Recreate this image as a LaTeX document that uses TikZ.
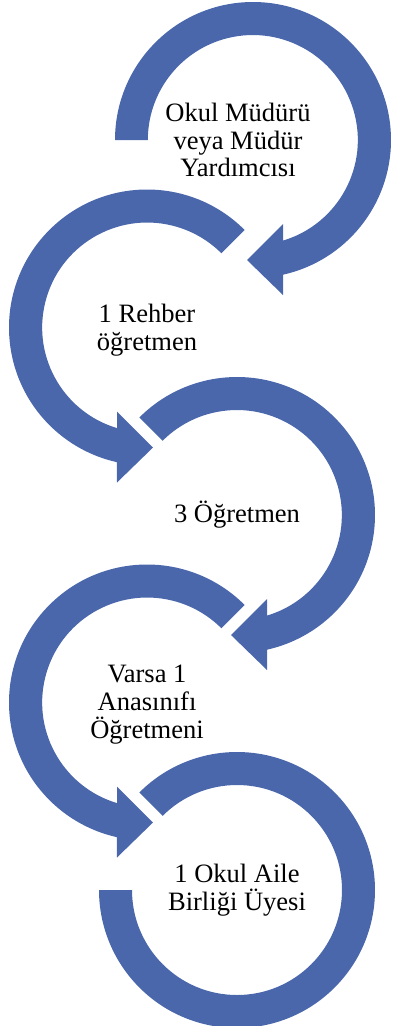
\documentclass[tikz,border=0pt]{standalone}
\usepackage{fontspec}
\setmainfont{Liberation Serif}
\usetikzlibrary{positioning}
\definecolor{cycleblue}{RGB}{74,103,172}

\tikzset{
  steptext/.style={align=center, inner sep=0pt, font=\fontsize{19.9}{20.7}\selectfont},
  pics/turnarrow/.style={code={
    \fill[cycleblue] (#1:138) arc[start angle=#1, end angle=-77.4, radius=138]
      -- (30,-155) -- (-6,-120) -- (30,-84) -- (30,-100.6)
      arc[start angle=-73.3, end angle=#1, radius=105] -- cycle;
  }},
  pics/lastturn/.style={code={
    \fill[cycleblue] (#1:138) arc[start angle=#1, end angle=-180, radius=138]
      -- (-105,0) arc[start angle=-180, end angle=#1, radius=105] -- cycle;
  }}
}

\begin{document}
\begin{tikzpicture}[x=0.75pt, y=0.75pt]
            \useasboundingbox (0,0) rectangle (393,-1026);
            \coordinate (c1) at (253,-140);
            \coordinate[below left=187.5 and 106 of c1] (c2);
            \coordinate[below right=187.5 and 90 of c2] (c3);
            \coordinate[below left=187.5 and 90 of c3] (c4);
            \coordinate[below right=187.5 and 90 of c4] (c5);
            \pic at (c1) {turnarrow=180};
            \pic[xscale=-1] at (c2) {turnarrow=135};
            \pic at (c3) {turnarrow=135};
            \pic[xscale=-1] at (c4) {turnarrow=135};
            \pic at (c5) {lastturn=135};
            \node[steptext, xshift=-11.25pt] (t1) at (c1) {Okul Müdürü\\veya Müdür\\Yardımcısı};
            \node[steptext, yshift=-2pt] (t2) at (c2) {1 Rehber\\öğretmen};
            \node[steptext] (t3) at (c3) {3 Öğretmen};
            \node[steptext, yshift=-1.5pt] (t4) at (c4) {Varsa 1\\Anasınıfı\\Öğretmeni};
            \node[steptext] (t5) at (c5) {1 Okul Aile\\Birliği Üyesi};
        \end{tikzpicture}
\end{document}
